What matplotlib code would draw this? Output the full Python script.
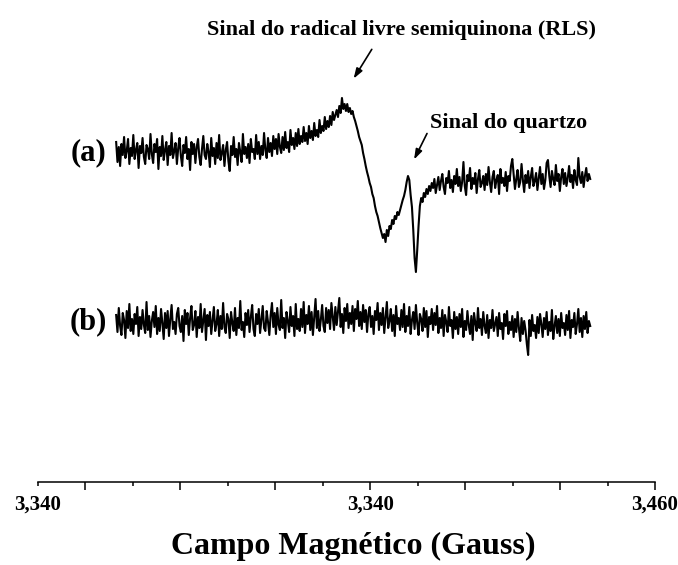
import numpy as np
import matplotlib
matplotlib.use("Agg")
import matplotlib.pyplot as plt

plt.rcParams['font.family'] = ['Liberation Serif', 'DejaVu Serif']
plt.rcParams['font.weight'] = 'bold'

# scan grid (Gauss)
field = np.linspace(3355.2, 3447.4, 360)

# (a) sample: RLS signal + quartz line, intensity in a.u.
sig_a = [
    8, -12, 3, -16, 6, -5, 13, -8, -1, 11, -14, 2, -6, 15, -9, 0, 7, -18, 4, -3,
    12, -7, -14, 5, 1, -9, 16, -4, -13, 6, -2, 11, -19, 3, -6, 14, -10, 0, 8, -15,
    4, -5, 17, -8, -1, 7, -14, 2, 12, -6, -16, 5, -3, 13, -9, 1, -20, 8, -4, 6,
    -13, 3, 11, -7, -15, 1, 14, -5, -9, 6, -2, -17, 12, -6, 2, -14, 7, -8, 15, -10,
    -3, 5, -16, 0, 8, -11, -21, 4, -5, 13, -7, 1, -15, 7, -2, -12, 16, -4, 3, -8,
    6, -13, 11, -2, 1, -9, 15, -4, 8, -9, 4, -5, 17, 0, -8, 12, -2, 7, -6, 14,
    1, 11, -4, 16, 3, -3, 13, 0, 18, 2, 8, -2, 20, 5, 12, 1, 17, 4, 21, 6,
    14, 8, 23, 9, 17, 6, 24, 12, 19, 10, 27, 14, 20, 13, 30, 17, 24, 19, 33, 21,
    29, 23, 34, 25, 38, 30, 35, 40, 33, 44, 37, 52, 41, 46, 39, 46, 38, 42, 36, 39,
    33, 29, 24, 19, 13, 9, 5, -3, -9, -16, -22, -27, -33, -37, -44, -48, -56, -62, -66, -72,
    -78, -83, -88, -84, -92, -80, -86, -76, -79, -70, -74, -66, -69, -62, -65, -60, -55, -50, -46, -40,
    -32, -26, -30, -45, -57, -80, -108, -122, -100, -76, -56, -48, -52, -43, -47, -39, -44, -36, -41, -33,
    -38, -29, -43, -35, -27, -40, -31, -24, -37, -44, -28, -33, -21, -38, -30, -42, -26, -34, -19, -36,
    -27, -41, -32, -12, -36, -45, -25, -31, -18, -39, -28, -34, -23, -43, -29, -20, -37, -33, -26, -40,
    -24, -35, -17, -32, -42, -27, -21, -38, -30, -25, -44, -19, -33, -28, -36, -22, -41, -26, -31, -16,
    -9, -24, -39, -29, -20, -37, -32, -14, -30, -42, -25, -33, -21, -38, -27, -18, -36, -31, -23, -40,
    -28, -17, -34, -24, -39, -30, -13, -10, -26, -37, -21, -29, -35, -15, -31, -24, -41, -27, -19, -34,
    -23, -36, -28, -16, -32, -25, -38, -20, -30, -35, -8, -27, -33, -22, -37, -26, -18, -31, -24, -29,
]

# (b) blank, noise only
sig_b = [
    7, -10, 14, -4, -13, 9, 2, -16, 11, -6, 18, -9, 3, -12, 8, -2, 15, -14, 5, -7,
    12, -3, -11, 20, -8, 6, -15, 1, 10, -5, 16, -12, 4, -9, 13, -1, -17, 9, -6, 11,
    -14, 3, 17, -7, 0, -12, 8, 14, -4, -10, 6, -19, 12, -2, 9, -13, 4, 16, -8, -3,
    11, -15, 5, -6, 18, -10, 2, 13, -18, 7, -4, 10, -12, 1, 15, -9, -2, 12, -14, 6,
    -7, 19, -5, -11, 8, 3, -16, 10, -1, -9, 14, -13, 4, -6, 21, -8, 0, -15, 9, -3,
    12, -10, 5, 17, -7, -14, 8, -2, 13, -11, 2, 16, -6, -9, 11, 0, -13, 7, 19, -5,
    9, -12, 14, -3, -8, 22, -6, 4, -16, 10, 1, -10, 15, -4, 6, -14, 18, -7, 3, -9,
    13, -5, 20, -11, 7, -2, 16, -8, 10, -13, 5, 23, -6, 11, -9, 2, 17, -4, -10, 14,
    -1, 12, -7, 19, 6, -8, 15, -3, 10, 24, -5, 8, -11, 14, 1, 18, -6, 9, -2, 16,
    -9, 13, 3, 21, -4, 10, -7, 17, 0, 12, -10, 8, 15, -5, 6, -12, 11, 2, 19, -8,
    9, -3, 14, -11, 5, 20, -6, 1, 13, -9, 7, -14, 16, -2, 4, -8, 12, -5, 18, -10,
    6, -4, 15, -12, 2, 10, -7, 17, -1, -13, 8, 3, -9, 14, -5, 11, -15, 5, -2, 13,
    -8, 9, -3, 16, -11, 4, -6, 12, -14, 7, 0, -10, 15, -4, 2, -16, 10, -7, 5, -12,
    8, -5, 13, -15, 1, -8, 11, -3, -12, 6, -18, 9, -1, -9, 14, -6, 3, -13, 10, -4,
    -11, 7, -16, 2, -6, 12, -9, -2, 5, -14, 9, -7, -1, -17, 8, -4, 11, -12, 0, -8,
    6, -15, 3, -10, 10, -6, -19, 4, -12, 1, -8, -22, -33, 2, -14, 7, -9, -3, -16, 5,
    -11, 8, -2, -15, 4, -7, 10, -13, 0, -9, 12, -17, -4, 6, -11, 3, -14, 9, -6, -1,
    -13, 7, -8, 11, -16, 2, -5, 9, -12, -2, 13, -10, 4, -15, 6, -7, 10, -11, 1, -4,
]

offset_a = 332
offset_b = 160

tick_labels = {0: '3,340', 7: '3,340', 13: '3,460'}

fig = plt.figure(figsize=(6.78, 5.65), dpi=100)
ax = fig.add_axes([38 / 678, 1 - 482 / 565, 617 / 678, 482 / 565])

ax.plot(field, np.array(sig_a) + offset_a, color='black', lw=1.5)
ax.plot(field, np.array(sig_b) + offset_b, color='black', lw=1.5)

ax.set_xlim(3340, 3460)
ax.set_ylim(0, 482)

# only the bottom axis line is shown
for s in ['top', 'left', 'right']:
    ax.spines[s].set_visible(False)
ax.spines['bottom'].set_linewidth(1.1)
ax.set_yticks([])

step = 120 / 13
major = [3340 + k * step for k in range(1, 14, 2)]
minor = [3340 + k * step for k in range(0, 14, 2)]
ax.set_xticks(major, labels=[tick_labels.get(k, '') for k in range(1, 14, 2)])
ax.set_xticks(minor, labels=[tick_labels.get(k, '') for k in range(0, 14, 2)], minor=True)
ax.tick_params(axis='x', which='major', direction='out', length=6, width=1.1,
               pad=3, labelsize=15)
ax.tick_params(axis='x', which='minor', direction='out', length=3, width=1.1,
               pad=6, labelsize=15)
for lab in ax.get_xticklabels(which='both'):
    lab.set_fontweight('bold')

ax.text(3349.8, offset_a - 2.5, '(a)', fontsize=22, fontweight='bold', ha='center', va='center')
ax.text(3349.8, offset_b, '(b)', fontsize=22, fontweight='bold', ha='center', va='center')

arrow = dict(arrowstyle='-|>,head_length=0.6,head_width=0.2', lw=1.2, color='black')
ax.annotate('', xy=(3401.1, 401), xytext=(3405.2, 435), arrowprops=arrow)
ax.text(3372.9, 447, 'Sinal do radical livre semiquinona (RLS)', fontsize=16,
        fontweight='bold', ha='left', va='baseline')

ax.annotate('', xy=(3412.9, 320), xytext=(3415.9, 351), arrowprops=arrow)
ax.text(3416.2, 354, 'Sinal do quartzo', fontsize=16, fontweight='bold',
        ha='left', va='baseline')

fig.text(353 / 678, 1 - 546 / 565, 'Campo Magnético (Gauss)', fontsize=23,
         fontweight='bold', ha='center', va='center')

fig.savefig('out.png', dpi=100)
